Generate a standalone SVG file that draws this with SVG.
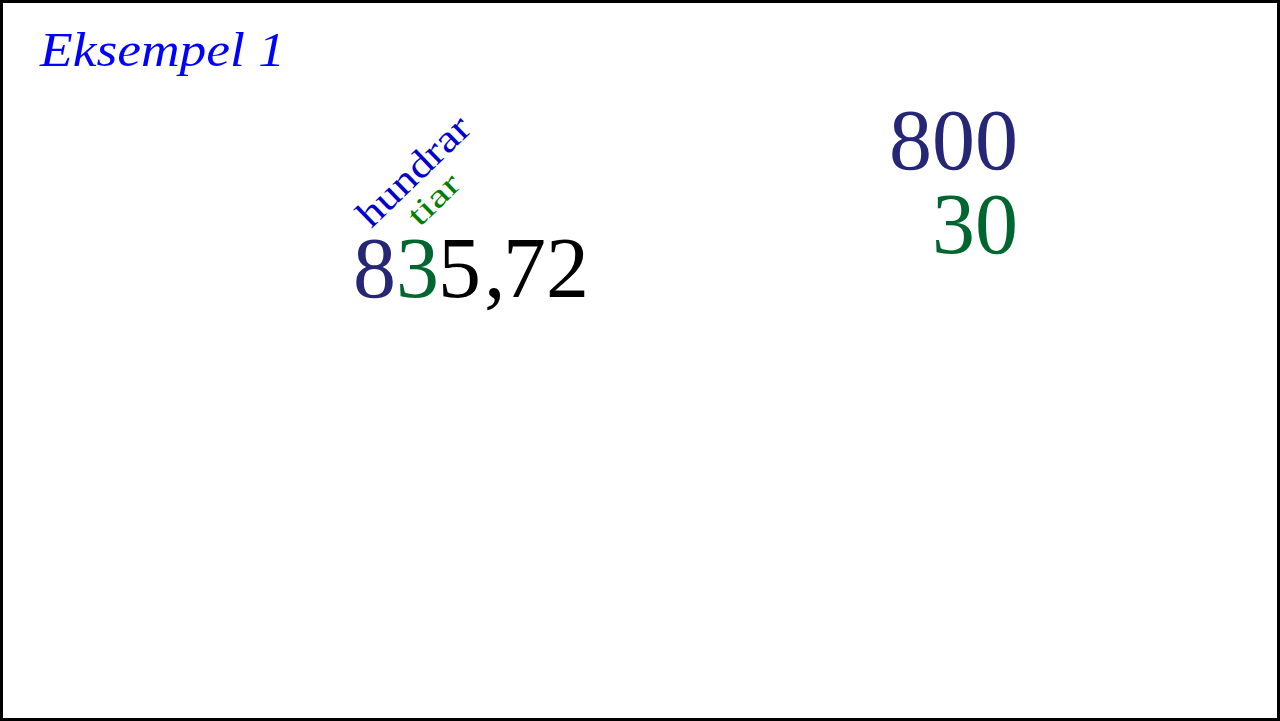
<svg xmlns="http://www.w3.org/2000/svg" width="1280" height="721" viewBox="0 0 1280 721">
<style>
.t{font-family:"Liberation Serif","DejaVu Serif",serif}
.big{font-size:86px}
.navy{fill:#262676}
.green{fill:#00662f}
</style>
<rect x="0" y="0" width="1280" height="721" fill="#fff"/>
<rect x="1.5" y="1.5" width="1277" height="718" fill="none" stroke="#000" stroke-width="3"/>
<g id="title"><text class="t" x="40" y="66" font-size="48" font-style="italic" fill="#0000ff" textLength="245" lengthAdjust="spacingAndGlyphs">Eksempel 1</text></g>
<g id="number">
<text class="t big" y="297"><tspan class="navy" x="353">8</tspan><tspan class="green" x="396">3</tspan><tspan x="438" fill="#000">5</tspan><tspan x="484" fill="#000">,</tspan><tspan x="503" fill="#000">7</tspan><tspan x="546" fill="#000">2</tspan></text>
</g>
<g id="label-hundrar"><text class="t" x="422" y="180" font-size="38" fill="#0000cc" text-anchor="middle" textLength="142" lengthAdjust="spacingAndGlyphs" transform="rotate(-44 422 180)">hundrar</text></g>
<g id="label-tiar"><text class="t" x="441" y="207" font-size="32" fill="#008000" text-anchor="middle" textLength="60" lengthAdjust="spacingAndGlyphs" transform="rotate(-44 441 207)">tiar</text></g>
<g id="expansion">
<text class="t big navy" x="1018" y="169" text-anchor="end">800</text>
<text class="t big green" x="1018" y="253" text-anchor="end">30</text>
</g>
<g id="connectors"/>
</svg>
